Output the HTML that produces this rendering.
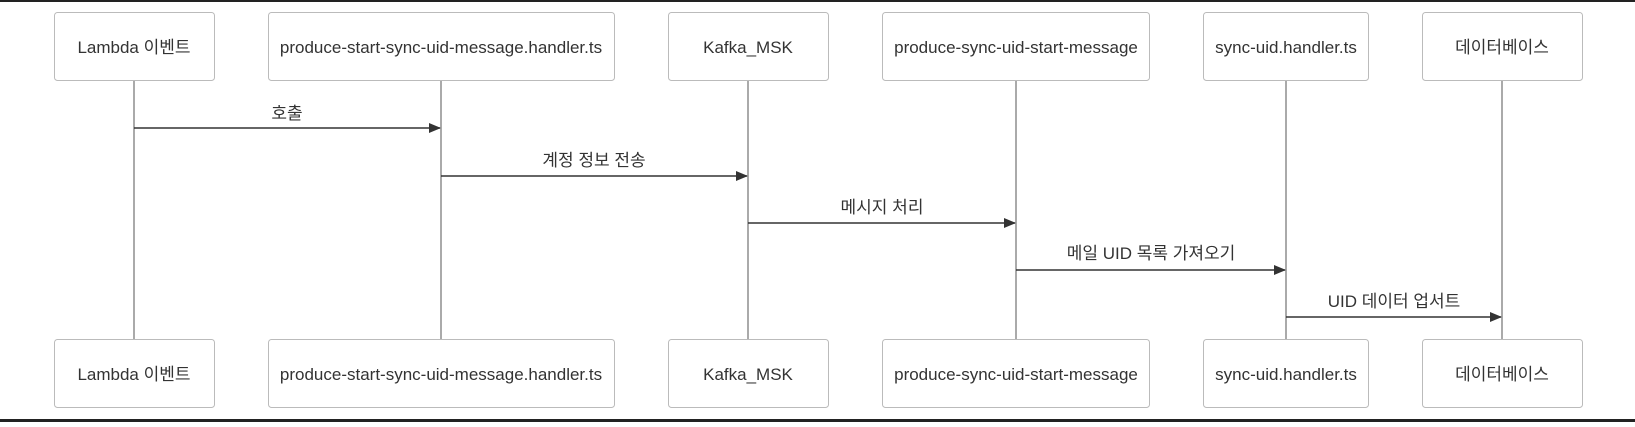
<!DOCTYPE html>
<html><head><meta charset="utf-8"><style>
html,body{margin:0;padding:0;background:#fff;}
body{width:1635px;height:422px;overflow:hidden;}
svg text{font-family:"Liberation Sans","Noto Sans CJK KR",sans-serif;font-size:17px;fill:#333;}
</style></head><body>
<svg width="1635" height="422" viewBox="0 0 1635 422" xmlns="http://www.w3.org/2000/svg">
<defs><marker id="a" markerWidth="12" markerHeight="10" refX="11" refY="5" orient="auto" markerUnits="userSpaceOnUse"><path d="M0,0 L12,5 L0,10 z" fill="#333"/></marker></defs>
<rect x="0" y="0" width="1635" height="2" fill="#222"/>
<rect x="0" y="419" width="1635" height="3" fill="#222"/>
<g stroke="#aaa" stroke-width="2">
<line x1="134" y1="81" x2="134" y2="339"/>
<line x1="441" y1="81" x2="441" y2="339"/>
<line x1="748" y1="81" x2="748" y2="339"/>
<line x1="1016" y1="81" x2="1016" y2="339"/>
<line x1="1286" y1="81" x2="1286" y2="339"/>
<line x1="1502" y1="81" x2="1502" y2="339"/>
</g>
<g fill="#fff" stroke="#bbb" stroke-width="1">
<rect x="54.5" y="12.5" width="160" height="68" rx="3"/>
<rect x="268.5" y="12.5" width="346" height="68" rx="3"/>
<rect x="668.5" y="12.5" width="160" height="68" rx="3"/>
<rect x="882.5" y="12.5" width="267" height="68" rx="3"/>
<rect x="1203.5" y="12.5" width="165" height="68" rx="3"/>
<rect x="1422.5" y="12.5" width="160" height="68" rx="3"/>
<rect x="54.5" y="339.5" width="160" height="68" rx="3"/>
<rect x="268.5" y="339.5" width="346" height="68" rx="3"/>
<rect x="668.5" y="339.5" width="160" height="68" rx="3"/>
<rect x="882.5" y="339.5" width="267" height="68" rx="3"/>
<rect x="1203.5" y="339.5" width="165" height="68" rx="3"/>
<rect x="1422.5" y="339.5" width="160" height="68" rx="3"/>
</g>
<g text-anchor="middle">
<text x="134" y="53">Lambda 이벤트</text>
<text x="441" y="53">produce-start-sync-uid-message.handler.ts</text>
<text x="748" y="53">Kafka_MSK</text>
<text x="1016" y="53">produce-sync-uid-start-message</text>
<text x="1286" y="53">sync-uid.handler.ts</text>
<text x="1502" y="53">데이터베이스</text>
<text x="134" y="380">Lambda 이벤트</text>
<text x="441" y="380">produce-start-sync-uid-message.handler.ts</text>
<text x="748" y="380">Kafka_MSK</text>
<text x="1016" y="380">produce-sync-uid-start-message</text>
<text x="1286" y="380">sync-uid.handler.ts</text>
<text x="1502" y="380">데이터베이스</text>
<text x="287" y="119">호출</text>
<text x="594" y="166">계정 정보 전송</text>
<text x="882" y="213">메시지 처리</text>
<text x="1151" y="259">메일 UID 목록 가져오기</text>
<text x="1394" y="307">UID 데이터 업서트</text>
</g>
<g stroke="#333" stroke-width="1.5" marker-end="url(#a)">
<line x1="134" y1="128" x2="440" y2="128"/>
<line x1="441" y1="176" x2="747" y2="176"/>
<line x1="748" y1="223" x2="1015" y2="223"/>
<line x1="1016" y1="270" x2="1285" y2="270"/>
<line x1="1286" y1="317" x2="1501" y2="317"/>
</g>
</svg>
</body></html>
